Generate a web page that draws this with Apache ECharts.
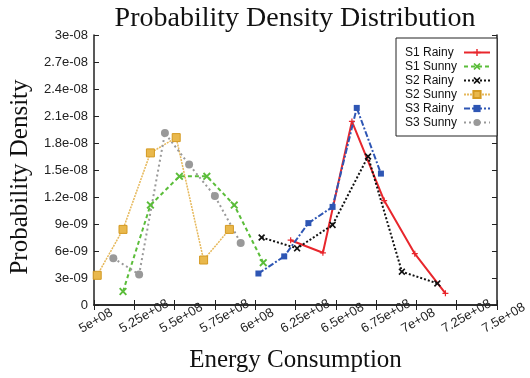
<!DOCTYPE html>
<html>
<head>
<meta charset="utf-8">
<script src="https://cdn.jsdelivr.net/npm/echarts@6/dist/echarts.min.js"></script>
<style>
  html, body { margin: 0; padding: 0; background: #fff; }
  #chart { width: 530px; height: 378px; }
</style>
</head>
<body>
<div id="chart"></div>
<script>
// energy consumption (x) and probability density (y)
const s1RainyX = [6.22e8, 6.42e8, 6.60e8, 6.80e8, 6.99e8, 7.18e8];
const s1RainyY = [7.2e-9, 5.8e-9, 20.4e-9, 11.6e-9, 5.7e-9, 1.3e-9];
const s1SunnyX = [5.18e8, 5.35e8, 5.53e8, 5.70e8, 5.87e8, 6.05e8];
const s1SunnyY = [1.5e-9, 11.1e-9, 14.3e-9, 14.3e-9, 11.1e-9, 4.7e-9];
const s2RainyX = [6.04e8, 6.26e8, 6.48e8, 6.70e8, 6.91e8, 7.13e8];
const s2RainyY = [7.5e-9, 6.3e-9, 8.9e-9, 16.5e-9, 3.7e-9, 2.4e-9];
const s2SunnyX = [5.02e8, 5.18e8, 5.35e8, 5.51e8, 5.68e8, 5.84e8];
const s2SunnyY = [3.3e-9, 8.4e-9, 16.9e-9, 18.6e-9, 5.0e-9, 8.4e-9];
const s3RainyX = [6.02e8, 6.18e8, 6.33e8, 6.48e8, 6.63e8, 6.78e8];
const s3RainyY = [3.5e-9, 5.4e-9, 9.1e-9, 10.9e-9, 21.9e-9, 14.6e-9];
const s3SunnyX = [5.12e8, 5.28e8, 5.44e8, 5.59e8, 5.75e8, 5.91e8];
const s3SunnyY = [5.2e-9, 3.4e-9, 19.1e-9, 15.6e-9, 12.1e-9, 6.9e-9];

const seriesNames = ['S1 Rainy', 'S1 Sunny', 'S2 Rainy', 'S2 Sunny', 'S3 Rainy', 'S3 Sunny'];

const pairs = (xs, ys) => xs.map((x, i) => [x, ys[i]]);

// gnuplot style number labels: 5e+08, 2.7e-08, 0
function sci(v) {
  if (v === 0) return '0';
  const e = Math.floor(Math.log10(Math.abs(v)) + 1e-9);
  const m = Math.round(v / Math.pow(10, e) * 100) / 100;
  const sign = e < 0 ? '-' : '+';
  const ex = String(Math.abs(e)).padStart(2, '0');
  return m + 'e' + sign + ex;
}

const plusPath = 'path://M2,0H3V2H5V3H3V5H2V3H0V2H2Z';
const crossPath = 'path://M0,1L1,0L3,2L5,0L6,1L4,3L6,5L5,6L3,4L1,6L0,5L2,3Z';

const myChart = echarts.init(document.getElementById('chart'));
const axisColor = '#222';

myChart.setOption({
  animation: false,
  backgroundColor: '#fff',
  title: {
    text: 'Probability Density Distribution',
    left: 290,
    textAlign: 'center',
    top: 0,
    textStyle: {fontFamily: 'Liberation Serif', fontSize: 28, fontWeight: 'normal', color: '#111'}
  },
  grid: {left: 92, right: 29, top: 35, bottom: 72},
  legend: {
    data: seriesNames,
    orient: 'vertical',
    right: 33,
    top: 38,
    align: 'right',
    padding: [8, 6, 7, 9],
    itemGap: 1,
    itemWidth: 26,
    itemHeight: 9,
    borderColor: '#222',
    borderWidth: 1,
    backgroundColor: '#fff',
    formatter: '{t|{name}}',
    textStyle: {
      fontFamily: 'Liberation Sans', fontSize: 12, color: '#111', lineHeight: 13,
      rich: {t: {width: 54, align: 'left', fontFamily: 'Liberation Sans', fontSize: 12, lineHeight: 13, color: '#111'}}
    }
  },
  xAxis: [
    {
      type: 'value',
      min: 5e8,
      max: 7.5e8,
      interval: 0.25e8,
      name: 'Energy Consumption',
      nameLocation: 'middle',
      nameGap: 43,
      nameTextStyle: {fontFamily: 'Liberation Serif', fontSize: 25, color: '#111'},
      axisLine: {lineStyle: {color: axisColor, width: 1.5}},
      axisTick: {inside: true, length: 5, lineStyle: {color: axisColor}},
      splitLine: {show: false},
      axisLabel: {
        rotate: 30,
        align: 'left',
        verticalAlign: 'middle',
        padding: [0, 0, 0, -16],
        margin: 17,
        fontFamily: 'Liberation Sans',
        fontSize: 13,
        color: '#222',
        formatter: sci
      }
    },
    {
      type: 'value',
      position: 'top',
      min: 5e8,
      max: 7.5e8,
      interval: 0.25e8,
      axisLine: {lineStyle: {color: axisColor, width: 1.5}},
      axisTick: {inside: true, length: 5, lineStyle: {color: axisColor}},
      axisLabel: {show: false},
      splitLine: {show: false}
    }
  ],
  yAxis: [
    {
      type: 'value',
      min: 0,
      max: 3e-8,
      interval: 3e-9,
      name: 'Probability Density',
      nameLocation: 'middle',
      nameGap: 54,
      nameTextStyle: {fontFamily: 'Liberation Serif', fontSize: 25, color: '#111', padding: [0, 0, 0, -14]},
      axisLine: {show: true, lineStyle: {color: axisColor, width: 1.5}},
      axisTick: {show: true, inside: true, length: 5, lineStyle: {color: axisColor}},
      splitLine: {show: false},
      axisLabel: {margin: 6, fontFamily: 'Liberation Sans', fontSize: 13, color: '#222', formatter: sci}
    },
    {
      type: 'value',
      position: 'right',
      min: 0,
      max: 3e-8,
      interval: 3e-9,
      axisLine: {show: true, lineStyle: {color: axisColor, width: 1.5}},
      axisTick: {show: true, inside: true, length: 5, lineStyle: {color: axisColor}},
      axisLabel: {show: false},
      splitLine: {show: false}
    }
  ],
  series: [
    {
      name: 'S1 Rainy', type: 'line', data: pairs(s1RainyX, s1RainyY),
      symbol: plusPath, symbolSize: 6,
      lineStyle: {color: '#e8262c', width: 2},
      itemStyle: {color: '#e8262c'}
    },
    {
      name: 'S1 Sunny', type: 'line', data: pairs(s1SunnyX, s1SunnyY),
      symbol: crossPath, symbolSize: 8,
      lineStyle: {color: '#5bbd3a', width: 2, type: [4, 3]},
      itemStyle: {color: '#5bbd3a'}
    },
    {
      name: 'S2 Rainy', type: 'line', data: pairs(s2RainyX, s2RainyY),
      symbol: crossPath, symbolSize: 7,
      lineStyle: {color: '#111', width: 2, type: [2, 2]},
      itemStyle: {color: '#111'}
    },
    {
      name: 'S2 Sunny', type: 'line', data: pairs(s2SunnyX, s2SunnyY),
      symbol: 'rect', symbolSize: 8,
      lineStyle: {color: '#e6b85a', width: 1.5, type: [2, 1]},
      itemStyle: {color: '#e9b84c', borderColor: '#d49a22', borderWidth: 1}
    },
    {
      name: 'S3 Rainy', type: 'line', data: pairs(s3RainyX, s3RainyY),
      symbol: 'rect', symbolSize: 6,
      lineStyle: {color: '#2e56b4', width: 2, type: [6, 2, 2, 2]},
      itemStyle: {color: '#2e56b4'}
    },
    {
      name: 'S3 Sunny', type: 'line', data: pairs(s3SunnyX, s3SunnyY),
      symbol: 'circle', symbolSize: 8,
      lineStyle: {color: '#999', width: 2, type: [2, 3]},
      itemStyle: {color: '#999'}
    }
  ]
});
</script>
</body>
</html>
